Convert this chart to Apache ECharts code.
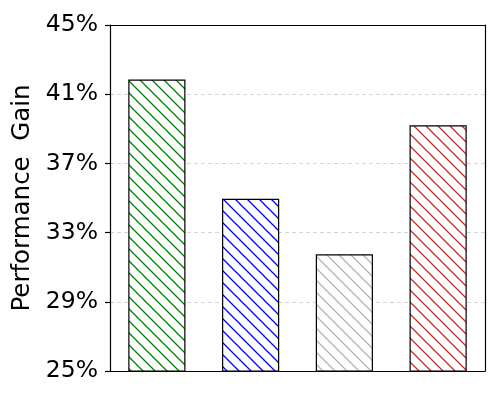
<!DOCTYPE html>
<html>
<head>
<meta charset="utf-8">
<script src="https://cdn.jsdelivr.net/npm/echarts@6/dist/echarts.min.js"></script>
<style>
  html, body { margin: 0; padding: 0; background: #fff; }
  #main { width: 500px; height: 400px; }
</style>
</head>
<body>
<div id="main"></div>
<script>
// data
var categories = ['A', 'B', 'C', 'D'];
var gainValues = [41.85, 34.95, 31.75, 39.2];
var hatchColors = ['#008000', '#0000ff', '#b4b4b4', '#c42c2c'];
var yTicks = [25, 29, 33, 37, 41, 45];

// make a "\\" hatch tile for a bar
function hatch(color) {
    var size = 12;
    var c = document.createElement('canvas');
    c.width = size;
    c.height = size;
    var ctx = c.getContext('2d');
    ctx.fillStyle = '#fff';
    ctx.fillRect(0, 0, size, size);
    ctx.strokeStyle = color;
    ctx.lineWidth = 1.3;
    ctx.beginPath();
    ctx.moveTo(-2, -2);
    ctx.lineTo(size + 2, size + 2);
    ctx.moveTo(-2, size - 2);
    ctx.lineTo(2, size + 2);
    ctx.moveTo(size - 2, -2);
    ctx.lineTo(size + 2, 2);
    ctx.stroke();
    return { image: c, repeat: 'repeat' };
}

var myChart = echarts.init(document.getElementById('main'));

var barData = gainValues.map(function(v, i) {
    return {
        value: v,
        itemStyle: {
            color: hatch(hatchColors[i]),
            borderColor: '#000',
            borderWidth: 1.2
        }
    };
});

var frameLine = { show: true, lineStyle: { color: '#000', width: 1.2 } };

var option = {
    animation: false,
    grid: {
        left: 110,
        right: 15,
        top: 25,
        bottom: 29
    },
    xAxis: [{
        type: 'category',
        data: categories,
        axisLine: frameLine,
        axisTick: { show: false },
        axisLabel: { show: false }
    }, {
        type: 'category',
        data: categories,
        position: 'top',
        axisLine: frameLine,
        axisTick: { show: false },
        axisLabel: { show: false }
    }],
    yAxis: [{
        type: 'value',
        min: yTicks[0],
        max: yTicks[yTicks.length - 1],
        interval: 4,
        name: 'Performance  Gain',
        nameLocation: 'middle',
        nameGap: 68,
        nameTextStyle: { fontFamily: 'DejaVu Sans', fontSize: 24.5, color: '#000' },
        axisLine: frameLine,
        axisTick: { show: true, length: 5, lineStyle: { color: '#000', width: 1.2 } },
        axisLabel: {
            margin: 12,
            fontFamily: 'DejaVu Sans',
            fontSize: 23.5,
            color: '#000',
            formatter: function(v) { return v + '%'; }
        },
        splitLine: { show: true, lineStyle: { color: '#cccccc', type: [4, 3], width: 0.8 } }
    }, {
        type: 'value',
        position: 'right',
        min: yTicks[0],
        max: yTicks[yTicks.length - 1],
        interval: 4,
        axisLine: frameLine,
        axisTick: { show: false },
        axisLabel: { show: false },
        splitLine: { show: false }
    }],
    series: [{
        type: 'bar',
        data: barData,
        barWidth: '61%'
    }]
};

myChart.setOption(option);
</script>
</body>
</html>
